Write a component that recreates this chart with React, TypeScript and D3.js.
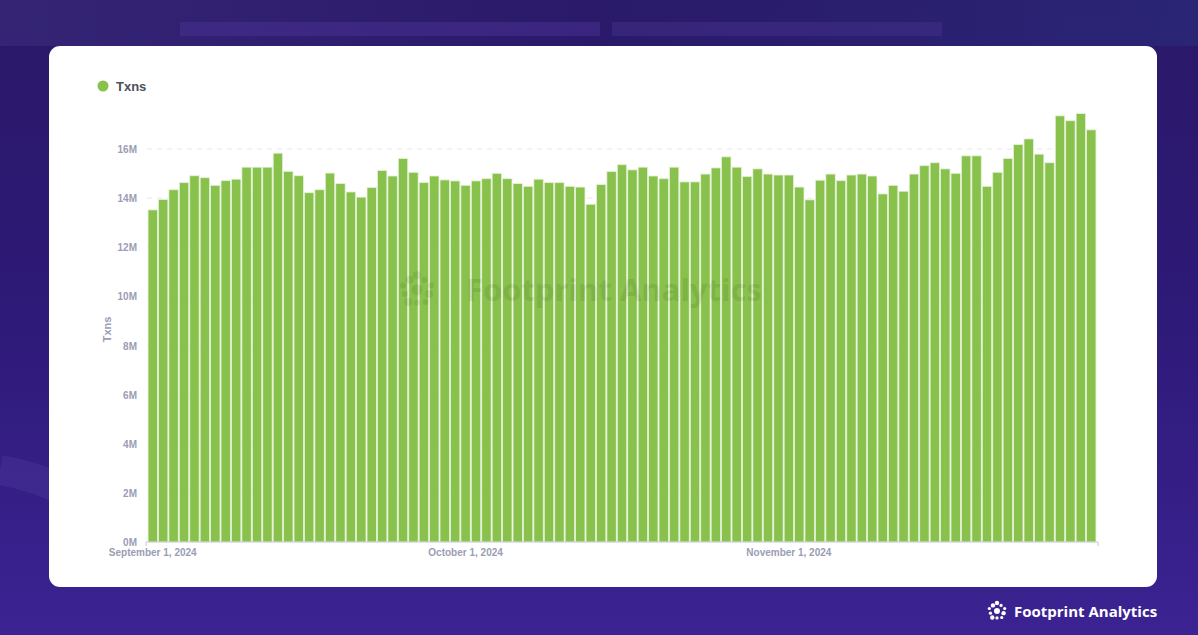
import React from "react";
import * as d3 from "d3";

const seriesName = "Txns";
const startDate = "2024-09-01";
const txnsM: number[] = [
  13.52, 13.94, 14.34, 14.63, 14.91, 14.83, 14.52, 14.71, 14.77, 15.26,
  15.26, 15.26, 15.83, 15.09, 14.91, 14.22, 14.34, 15.02, 14.59, 14.25,
  14.04, 14.43, 15.12, 14.9, 15.61, 15.05, 14.63, 14.9, 14.74, 14.7,
  14.52, 14.7, 14.79, 15.01, 14.79, 14.59, 14.48, 14.77, 14.63, 14.63,
  14.48, 14.45, 13.75, 14.55, 15.08, 15.36, 15.15, 15.26, 14.9, 14.79,
  15.26, 14.66, 14.66, 14.98, 15.23, 15.68, 15.26, 14.88, 15.19, 14.98,
  14.94, 14.94, 14.45, 13.93, 14.73, 14.98, 14.71, 14.94, 14.98, 14.9,
  14.17, 14.52, 14.28, 14.98, 15.32, 15.44, 15.19, 15.01, 15.72, 15.72,
  14.48, 15.05, 15.61, 16.18, 16.41, 15.79, 15.44, 17.35, 17.15, 17.44,
  16.78,
];
const yTicks = [0, 2, 4, 6, 8, 10, 12, 14, 16];
const xTickDates = ["2024-09-01", "2024-10-01", "2024-11-01"];
const xTickLabels = ["September 1, 2024", "October 1, 2024", "November 1, 2024"];

const parse = d3.timeParse("%Y-%m-%d");
const fmt = d3.timeFormat("%Y-%m-%d");
const start = parse(startDate) as Date;
const dates: string[] = txnsM.map((_, i) => fmt(d3.timeDay.offset(start, i)));

const W = 1198;
const H = 635;
const plotLeft = 147;
const plotRight = 1097;
const plotTop = 149;
const plotBottom = 542;

function Logo({ x, y, scale = 1, color = "#fff" }: { x: number; y: number; scale?: number; color?: string }) {
  const rays = d3.range(10).map((i) => {
    const a = (i / 10) * Math.PI * 2 - Math.PI / 2;
    const r = i % 2 === 0 ? 7 : 6;
    return { cx: Math.cos(a) * r, cy: Math.sin(a) * r, rr: i % 3 === 0 ? 1.9 : 1.4 };
  });
  return (
    <g transform={`translate(${x},${y}) scale(${scale})`} fill={color}>
      <circle r={2.6} />
      {rays.map((d, i) => (
        <circle key={i} cx={d.cx} cy={d.cy} r={d.rr} />
      ))}
    </g>
  );
}

export default function App() {
  const x = d3.scaleBand<string>().domain(dates).range([plotLeft, plotRight]).paddingInner(0.1).paddingOuter(0.1);
  const y = d3.scaleLinear().domain([0, 16]).range([plotBottom, plotTop]);
  const labelColor = "#9a9db3";
  const axisFont = "'Liberation Sans', Arial, sans-serif";

  return (
    <div style={{ position: "fixed", left: 0, top: 0, width: W, height: H }}>
      <svg width={W} height={H} style={{ display: "block", fontFamily: axisFont }}>
        <defs>
          <linearGradient id="bg" x1="0" y1="0" x2="0" y2="1">
            <stop offset="0" stopColor="#2a1868" />
            <stop offset="0.5" stopColor="#2e1a78" />
            <stop offset="1" stopColor="#3b2392" />
          </linearGradient>
          <linearGradient id="topband" x1="0" y1="0" x2="1" y2="0">
            <stop offset="0" stopColor="#3a2a7a" />
            <stop offset="0.5" stopColor="#2a1a6a" />
            <stop offset="1" stopColor="#2a2a7a" />
          </linearGradient>
        </defs>
        <rect width={W} height={H} fill="url(#bg)" />
        <rect width={W} height={46} fill="url(#topband)" opacity={0.7} />
        <rect x={180} y={22} width={420} height={14} fill="#4a3192" opacity={0.5} />
        <rect x={612} y={22} width={330} height={14} fill="#43308a" opacity={0.5} />
        <path d="M0,470 Q60,480 110,520" stroke="#5b47a8" strokeWidth={30} fill="none" opacity={0.25} />

        <rect x={49} y={46} width={1108} height={541} rx={11} fill="#ffffff" />

        {/* legend */}
        <circle cx={103} cy={86} r={5.5} fill="#88c14b" />
        <text x={116} y={91} fontSize={13} fontWeight={700} fill="#4c4f5c">
          {seriesName}
        </text>

        {/* grid */}
        {yTicks.filter((t) => t > 0).map((t) => (
          <line key={t} x1={plotLeft} x2={plotRight} y1={y(t)} y2={y(t)} stroke="#e6e7ec" strokeDasharray="5,5" />
        ))}

        {/* bars */}
        {txnsM.map((v, i) => (
          <rect
            key={dates[i]}
            x={x(dates[i])!}
            y={y(v)}
            width={x.bandwidth()}
            height={y(0) - y(v)}
            fill="#88c14b"
            stroke="#e4f1d6"
            strokeWidth={0.8}
          />
        ))}

        {/* watermark */}
        <g opacity={0.07}>
          <Logo x={417} y={290} scale={2.1} color="#000" />
          <text x={466} y={301} fontSize={31} fontWeight={700} fill="#000" style={{ fontFamily: "'Open Sans', sans-serif" }}>
            Footprint Analytics
          </text>
        </g>

        {/* x axis */}
        <path d={`M${plotLeft - 1},${plotBottom + 4}V${plotBottom}H${plotRight + 1}V${plotBottom + 4}`} stroke="#c7c9d3" fill="none" />
        {xTickDates.map((d, i) => (
          <text
            key={d}
            x={x(d)! + x.bandwidth() / 2}
            y={556}
            textAnchor="middle"
            fontSize={10}
            fontWeight={700}
            fill={labelColor}
          >
            {xTickLabels[i]}
          </text>
        ))}

        {/* y axis labels */}
        {yTicks.map((t) => (
          <text key={t} x={137} y={y(t) + 4} textAnchor="end" fontSize={10} fontWeight={700} fill={labelColor}>
            {`${t}M`}
          </text>
        ))}
        <text
          transform={`translate(111,${(plotTop + plotBottom) / 2 - 16}) rotate(-90)`}
          textAnchor="middle"
          fontSize={11}
          fontWeight={700}
          fill={labelColor}
        >
          {seriesName}
        </text>

        {/* brand */}
        <Logo x={997} y={611} scale={1.15} />
        <text x={1014} y={617} fontSize={15} fontWeight={700} fill="#ffffff" style={{ fontFamily: "'Open Sans', sans-serif" }}>
          Footprint Analytics
        </text>
      </svg>
    </div>
  );
}
